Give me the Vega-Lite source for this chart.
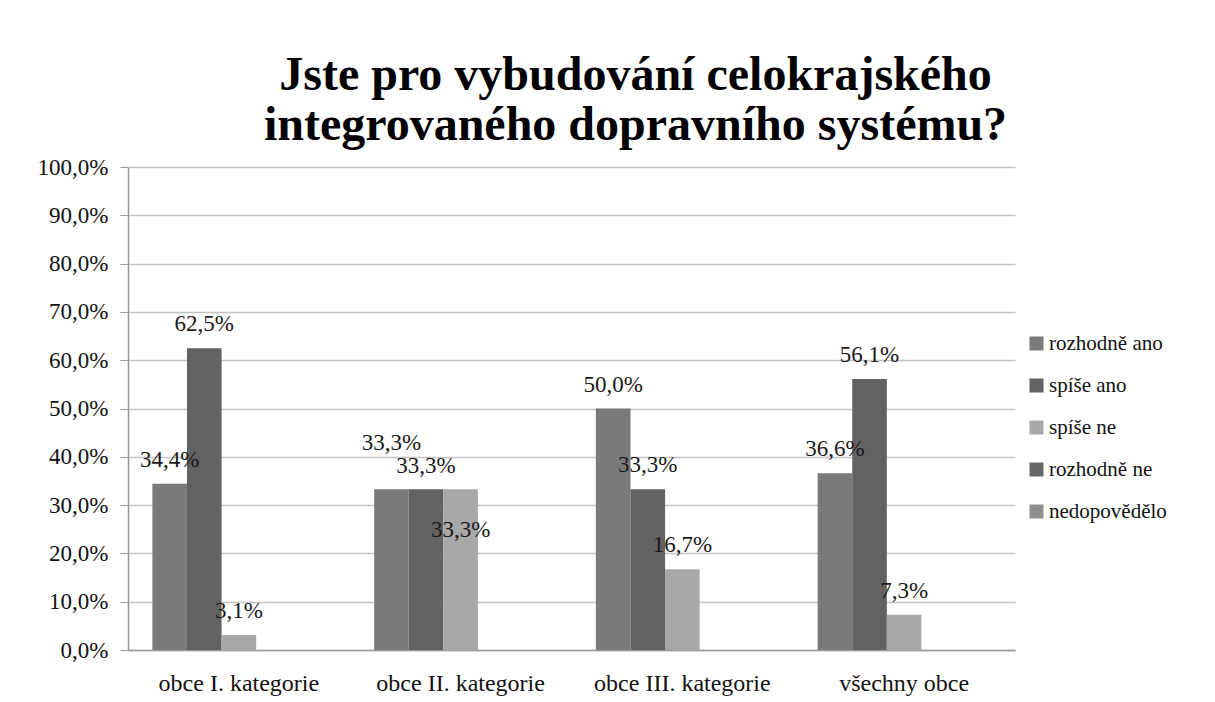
{
  "$schema": "https://vega.github.io/schema/vega-lite/v6.json",
  "width": 887,
  "height": 483,
  "autosize": {"type": "none"},
  "padding": {"left": 128, "top": 167, "right": 200, "bottom": 52},
  "background": "white",
  "config": {
    "locale": {"number": {"decimal": ",", "thousands": " ", "grouping": [3], "currency": ["", " Kč"]}},
    "font": "Liberation Serif",
    "text": {"font": "Liberation Serif"},
    "legend": {"labelFont": "Liberation Serif"},
    "axis": {"labelFont": "Liberation Serif"},
    "view": {"stroke": null}
  },
  "title": {
    "text": ["Jste pro vybudování celokrajského", "integrovaného dopravního systému?"],
    "font": "Liberation Serif",
    "fontSize": 48,
    "fontWeight": "bold",
    "lineHeight": 50,
    "color": "#000000",
    "anchor": "middle",
    "dx": 64,
    "offset": 6
  },
  "data": {
    "values": [
      {"kategorie": "obce I. kategorie", "odpoved": "rozhodně ano", "podil": 0.344},
      {"kategorie": "obce I. kategorie", "odpoved": "spíše ano", "podil": 0.625},
      {"kategorie": "obce I. kategorie", "odpoved": "spíše ne", "podil": 0.031},
      {"kategorie": "obce II. kategorie", "odpoved": "rozhodně ano", "podil": 0.333},
      {"kategorie": "obce II. kategorie", "odpoved": "spíše ano", "podil": 0.333},
      {"kategorie": "obce II. kategorie", "odpoved": "spíše ne", "podil": 0.333},
      {"kategorie": "obce III. kategorie", "odpoved": "rozhodně ano", "podil": 0.5},
      {"kategorie": "obce III. kategorie", "odpoved": "spíše ano", "podil": 0.333},
      {"kategorie": "obce III. kategorie", "odpoved": "spíše ne", "podil": 0.167},
      {"kategorie": "všechny obce", "odpoved": "rozhodně ano", "podil": 0.366},
      {"kategorie": "všechny obce", "odpoved": "spíše ano", "podil": 0.561},
      {"kategorie": "všechny obce", "odpoved": "spíše ne", "podil": 0.073}
    ]
  },
  "encoding": {
    "x": {
      "field": "kategorie",
      "type": "nominal",
      "sort": ["obce I. kategorie", "obce II. kategorie", "obce III. kategorie", "všechny obce"],
      "scale": {"paddingInner": 0.22, "paddingOuter": 0.11},
      "axis": {
        "title": null,
        "labelAngle": 0,
        "labelFont": "Liberation Serif",
        "labelFontSize": 24,
        "labelColor": "#111111",
        "labelPadding": 21,
        "ticks": false,
        "domainColor": "#9a9a9a",
        "domainWidth": 1.5
      }
    },
    "xOffset": {
      "field": "odpoved",
      "type": "nominal",
      "scale": {"domain": ["rozhodně ano", "spíše ano", "spíše ne", "rozhodně ne", "nedopovědělo"], "paddingInner": 0, "paddingOuter": 0}
    },
    "y": {
      "field": "podil",
      "type": "quantitative",
      "scale": {"domain": [0, 1]},
      "axis": {
        "title": null,
        "format": ".1%",
        "values": [0, 0.1, 0.2, 0.3, 0.4, 0.5, 0.6, 0.7, 0.8, 0.9, 1],
        "labelOverlap": false,
        "labelFont": "Liberation Serif",
        "labelFontSize": 23,
        "labelColor": "#111111",
        "labelPadding": 12,
        "tickSize": 8,
        "tickColor": "#9a9a9a",
        "domainColor": "#9a9a9a",
        "domainWidth": 1.5,
        "grid": true,
        "gridColor": "#c4c4c4",
        "gridWidth": 1.5
      }
    }
  },
  "layer": [
    {
      "mark": {"type": "bar"},
      "encoding": {
        "color": {
          "field": "odpoved",
          "type": "nominal",
          "scale": {
            "domain": ["rozhodně ano", "spíše ano", "spíše ne", "rozhodně ne", "nedopovědělo"],
            "range": ["#7a7a7a", "#626262", "#a8a8a8", "#666666", "#909090"]
          },
          "legend": {
            "title": null,
            "orient": "none",
            "legendX": 898,
            "legendY": 166,
            "symbolType": "square",
            "symbolSize": 196,
            "symbolStrokeWidth": 0,
            "labelFont": "Liberation Serif",
            "labelFontSize": 21,
            "labelColor": "#111111",
            "labelOffset": 2,
            "rowPadding": 20
          }
        }
      }
    },
    {
      "transform": [{"filter": "datum.kategorie !== 'obce II. kategorie'"}],
      "mark": {"type": "text", "dy": -24, "font": "Liberation Serif", "fontSize": 23, "color": "#1a1a1a", "baseline": "middle"},
      "encoding": {
        "text": {"field": "podil", "type": "quantitative", "format": ".1%"}
      }
    },
    {
      "transform": [{"filter": "datum.kategorie === 'obce II. kategorie' && datum.odpoved === 'rozhodně ano'"}],
      "mark": {"type": "text", "dy": -46, "font": "Liberation Serif", "fontSize": 23, "color": "#1a1a1a", "baseline": "middle"},
      "encoding": {
        "text": {"field": "podil", "type": "quantitative", "format": ".1%"}
      }
    },
    {
      "transform": [{"filter": "datum.kategorie === 'obce II. kategorie' && datum.odpoved === 'spíše ano'"}],
      "mark": {"type": "text", "dy": -23, "font": "Liberation Serif", "fontSize": 23, "color": "#1a1a1a", "baseline": "middle"},
      "encoding": {
        "text": {"field": "podil", "type": "quantitative", "format": ".1%"}
      }
    },
    {
      "transform": [{"filter": "datum.kategorie === 'obce II. kategorie' && datum.odpoved === 'spíše ne'"}],
      "mark": {"type": "text", "dy": 41, "font": "Liberation Serif", "fontSize": 23, "color": "#1a1a1a", "baseline": "middle"},
      "encoding": {
        "text": {"field": "podil", "type": "quantitative", "format": ".1%"}
      }
    }
  ]
}
